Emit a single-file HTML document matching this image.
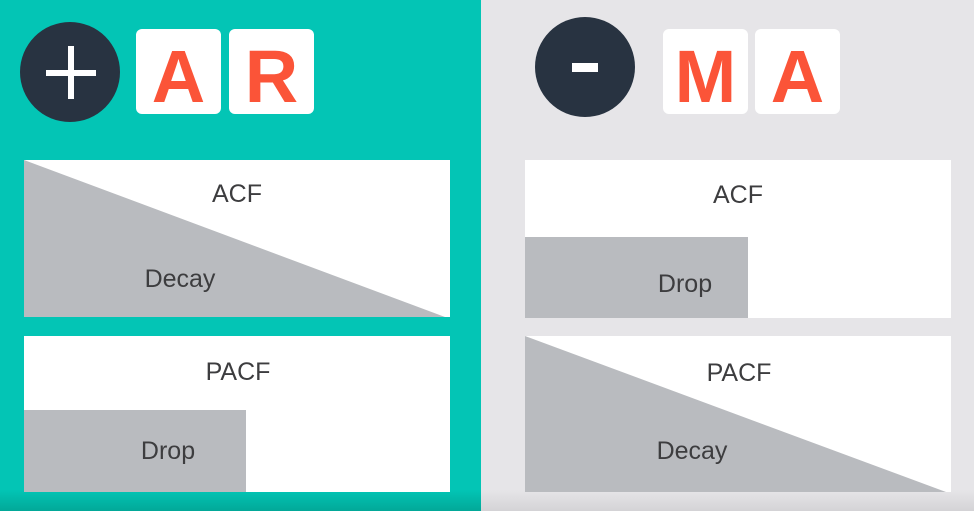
<!DOCTYPE html>
<html><head><meta charset="utf-8"><style>
html,body{margin:0;padding:0;width:974px;height:511px;overflow:hidden;background:#e6e5e8}
svg{display:block}
text{font-family:"Liberation Sans",sans-serif}
</style></head><body>
<svg width="974" height="511" viewBox="0 0 974 511" xmlns="http://www.w3.org/2000/svg">
<defs>
<linearGradient id="bt" x1="0" y1="0" x2="0" y2="1"><stop offset="0" stop-color="#02c5b5"/><stop offset="1" stop-color="#02a898"/></linearGradient>
<linearGradient id="bg" x1="0" y1="0" x2="0" y2="1"><stop offset="0" stop-color="#e6e5e8"/><stop offset="1" stop-color="#d4d3d6"/></linearGradient>
</defs>
<rect x="0" y="0" width="974" height="511" fill="#e6e5e8"/>
<rect x="481" y="490" width="493" height="21" fill="url(#bg)"/>
<rect x="0" y="0" width="481" height="511" fill="#03c5b5"/>
<rect x="0" y="490" width="481" height="21" fill="url(#bt)"/>

<circle cx="70" cy="72" r="50" fill="#283341"/>
<rect x="46" y="70" width="50" height="6" fill="#fff"/>
<rect x="68" y="46" width="6" height="53" fill="#fff"/>
<rect x="136" y="29" width="85" height="85" rx="6" fill="#fff"/>
<rect x="229" y="29" width="85" height="85" rx="6" fill="#fff"/>
<text x="178.5" y="102" font-size="74" font-weight="bold" fill="#fb5438" text-anchor="middle">A</text>
<text x="271.5" y="102" font-size="74" font-weight="bold" fill="#fb5438" text-anchor="middle">R</text>

<circle cx="585" cy="67" r="50" fill="#283341"/>
<rect x="572" y="63" width="26" height="9" fill="#fff"/>
<rect x="663" y="29" width="85" height="85" rx="6" fill="#fff"/>
<rect x="755" y="29" width="85" height="85" rx="6" fill="#fff"/>
<text x="705.5" y="102" font-size="74" font-weight="bold" fill="#fb5438" text-anchor="middle">M</text>
<text x="797.5" y="102" font-size="74" font-weight="bold" fill="#fb5438" text-anchor="middle">A</text>

<rect x="24" y="160" width="426" height="157" fill="#fff"/>
<polygon points="24,160 24,317 445,317" fill="#b9bbbf"/>
<text x="237" y="202" font-size="25" fill="#3d3d3f" text-anchor="middle">ACF</text>
<text x="180" y="287" font-size="25" fill="#3d3d3f" text-anchor="middle">Decay</text>

<rect x="24" y="336" width="426" height="156" fill="#fff"/>
<rect x="24" y="410" width="222" height="82" fill="#b9bbbf"/>
<text x="238" y="380" font-size="25" fill="#3d3d3f" text-anchor="middle">PACF</text>
<text x="168" y="459" font-size="25" fill="#3d3d3f" text-anchor="middle">Drop</text>

<rect x="525" y="160" width="426" height="158" fill="#fff"/>
<rect x="525" y="237" width="223" height="81" fill="#b9bbbf"/>
<text x="738" y="203" font-size="25" fill="#3d3d3f" text-anchor="middle">ACF</text>
<text x="685" y="292" font-size="25" fill="#3d3d3f" text-anchor="middle">Drop</text>

<rect x="525" y="336" width="426" height="156" fill="#fff"/>
<polygon points="525,336 525,492 946,492" fill="#b9bbbf"/>
<text x="739" y="381" font-size="25" fill="#3d3d3f" text-anchor="middle">PACF</text>
<text x="692" y="459" font-size="25" fill="#3d3d3f" text-anchor="middle">Decay</text>
</svg>
</body></html>
